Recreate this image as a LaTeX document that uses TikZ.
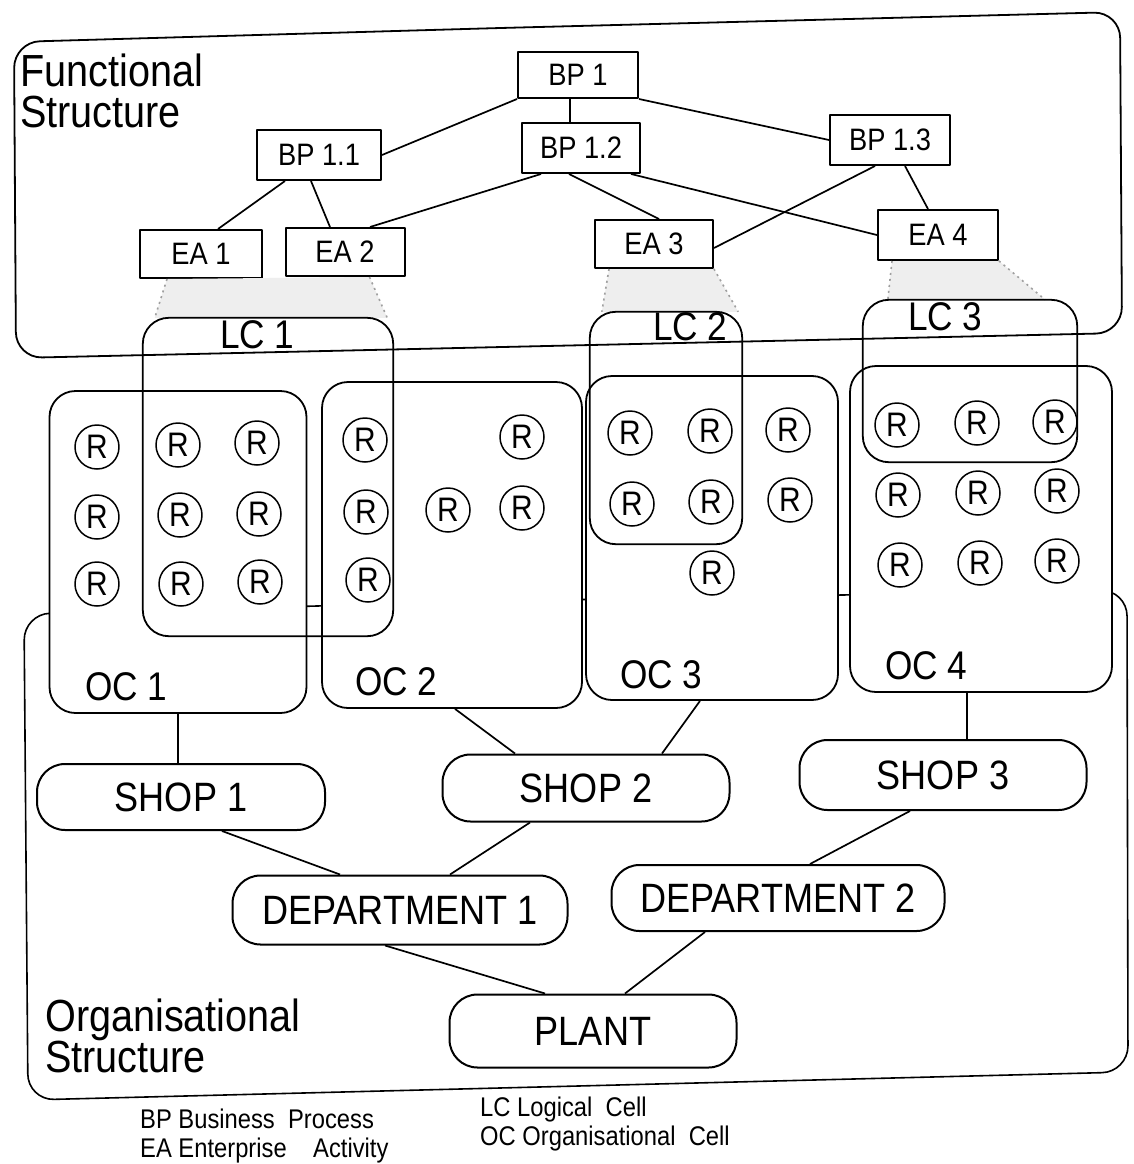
\documentclass[tikz,border=0pt]{standalone}
\usepackage{fontspec}
\setmainfont{Liberation Sans}[FakeStretch=0.88]
\usetikzlibrary{calc}
\begin{document}
\begin{tikzpicture}[x=1pt,y=-1pt,line join=round,
  bpbox/.style={draw,line width=2pt,inner sep=0pt,font=\fontsize{31}{31}\selectfont},
  cell/.style={draw,line width=1.8pt,rounded corners=26pt,inner sep=0pt},
  res/.style={circle,draw,line width=1.5pt,minimum size=44pt,inner sep=0pt,font=\fontsize{34}{34}\selectfont},
  unit/.style={draw,line width=2pt,rounded corners=28pt,inner sep=0pt,font=\fontsize{41}{41}\selectfont},
  link/.style={line width=1.7pt},
  bigbox/.style={draw,line width=1.8pt,rounded corners=26pt},
  funnelfill/.style={fill=gray!13},
  funnel/.style={draw=gray!75,line width=1.6pt,dash pattern=on 2pt off 4pt},
  title/.style={align=left,inner sep=0pt,anchor=north west,font=\fontsize{45}{41}\selectfont},
  cellname/.style={inner sep=0pt,anchor=base west,font=\fontsize{40}{40}\selectfont},
  legend/.style={inner sep=0pt,anchor=base west,font=\fontsize{27}{27}\selectfont}]
\useasboundingbox[fill=white] (0,0) rectangle (1133,1164);

% ---------- functional structure nodes
\node[bpbox,minimum width=120pt,minimum height=46pt] (bp1)  at (578,75)  {BP 1};
\node[bpbox,minimum width=124pt,minimum height=50pt] (bp11) at (319,155) {BP 1.1};
\node[bpbox,minimum width=118pt,minimum height=50pt] (bp12) at (581,148) {BP 1.2};
\node[bpbox,minimum width=120pt,minimum height=50pt] (bp13) at (890,140) {BP 1.3};
\node[bpbox,minimum width=122pt,minimum height=48pt] (ea1)  at (201,254) {EA 1};
\node[bpbox,minimum width=119pt,minimum height=48pt] (ea2)  at (345,252) {EA 2};
\node[bpbox,minimum width=118pt,minimum height=48pt] (ea3)  at (654,244) {EA 3};
\node[bpbox,minimum width=120pt,minimum height=50pt] (ea4)  at (938,235) {EA 4};

% ---------- cells (geometry)
\path (268,477) node[minimum width=250pt,minimum height=318pt,inner sep=0pt] (lc1) {};
\path (666,428) node[minimum width=152pt,minimum height=232pt,inner sep=0pt] (lc2) {};
\path (970,381) node[minimum width=214pt,minimum height=162pt,inner sep=0pt] (lc3) {};

% ---------- EA to LC shading
\fill[funnelfill] ([xshift=28pt]ea1.south west) -- ([xshift=-36pt]ea2.south east) -- ([xshift=-6pt]lc1.north east) -- ([xshift=12pt]lc1.north west) -- cycle;
\fill[funnelfill] ([xshift=15pt]ea3.south west) -- (ea3.south east) -- ([xshift=-4pt]lc2.north east) -- ([xshift=12pt]lc2.north west) -- cycle;
\fill[funnelfill] ([xshift=15pt]ea4.south west) -- (ea4.south east) -- ([xshift=-32pt]lc3.north east) -- ([xshift=25pt]lc3.north west) -- cycle;
\draw[funnel] ([xshift=28pt]ea1.south west) -- ([xshift=12pt]lc1.north west);
\draw[funnel] ([xshift=-36pt]ea2.south east) -- ([xshift=-6pt]lc1.north east);
\draw[funnel] ([xshift=15pt]ea3.south west) -- ([xshift=12pt]lc2.north west);
\draw[funnel] (ea3.south east) -- ([xshift=-4pt]lc2.north east);
\draw[funnel] ([xshift=15pt]ea4.south west) -- ([xshift=25pt]lc3.north west);
\draw[funnel] (ea4.south east) -- ([xshift=-32pt]lc3.north east);

% ---------- big frames
\draw[bigbox] (500,28) -- (1120,12) -- (1122,333) -- (16,358) -- (14,42) -- cycle;
\draw[bigbox,line width=1.6pt] (500,601) -- (1127,590) -- (1128,1072) -- (28,1100) -- (24,614) -- cycle;

% ---------- functional connectors
\draw[link] (bp1.south west) -- (bp11.east);
\draw[link] (bp1.south east) -- (bp13.west);
\draw[link] ([xshift=-8pt]bp1.south) -- ([xshift=-8pt]bp1.south |- bp12.north);
\draw[link] ([xshift=-34pt]bp11.south) -- ([xshift=17pt]ea1.north);
\draw[link] ([xshift=-8pt]bp11.south) -- ([xshift=-15pt]ea2.north);
\draw[link] ([xshift=-40pt]bp12.south) -- ([xshift=25pt]ea2.north);
\draw[link] ([xshift=-12pt]bp12.south) -- ([xshift=5pt]ea3.north);
\draw[link] ([xshift=50pt]bp12.south) -- (ea4.west);
\draw[link] ([xshift=-15pt]bp13.south) -- ([yshift=-4pt]ea3.east);
\draw[link] ([xshift=15pt]bp13.south) -- ([xshift=-10pt]ea4.north);

% ---------- organisational cells
\node[cell,fill=white,minimum width=257pt,minimum height=322pt] (oc1) at (178,552) {};
\node[cell,fill=white,minimum width=260pt,minimum height=326pt] (oc2) at (452,545) {};
\node[cell,fill=white,minimum width=252pt,minimum height=324pt] (oc3) at (712,538) {};
\node[cell,fill=white,minimum width=262pt,minimum height=326pt] (oc4) at (981,529) {};
\node[cellname] (oc1l) at (85,700) {OC 1};
\node[cellname] (oc2l) at (355,695) {OC 2};
\node[cellname] (oc3l) at (620,688) {OC 3};
\node[cellname] (oc4l) at (885,679) {OC 4};

% ---------- logical cells
\draw[cell] (lc1.south west) rectangle (lc1.north east);
\draw[cell] (lc2.south west) rectangle (lc2.north east);
\draw[cell] (lc3.south west) rectangle (lc3.north east);
\node[cellname] (lc1l) at (220,348) {LC 1};
\node[cellname] (lc2l) at (653,340) {LC 2};
\node[cellname] (lc3l) at (908,330) {LC 3};

% ---------- resources
\foreach \px/\py [count=\i] in {97/447,97/517,97/584,178/445,180/515,181/584,257/443,259/514,260/582,
  365/440,366/512,368/580,448/510,522/437,522/508,
  630/433,710/431,788/430,632/504,711/502,790/500,712/573,
  897/425,977/423,1055/422,898/495,978/493,1057/491,900/565,980/563,1057/561}
  \node[res] (r\i) at (\px,\py) {R};

% ---------- organisational units
\node[unit,minimum width=288pt,minimum height=66pt] (shop1) at (181,797) {SHOP 1};
\node[unit,minimum width=287pt,minimum height=67pt] (shop2) at (586,788) {SHOP 2};
\node[unit,minimum width=287pt,minimum height=70pt] (shop3) at (943,775) {SHOP 3};
\node[unit,minimum width=335pt,minimum height=69pt] (dept1) at (400,910) {DEPARTMENT 1};
\node[unit,minimum width=333pt,minimum height=66pt] (dept2) at (778,898) {DEPARTMENT 2};
\node[unit,minimum width=287pt,minimum height=73pt] (plant) at (593,1031) {PLANT};

\draw[link] (oc1.south) -- (oc1.south |- shop1.north);
\draw[link] ([xshift=3pt]oc2.south) -- ([xshift=-71pt]shop2.north);
\draw[link] ([xshift=-12pt]oc3.south) -- ([xshift=76pt]shop2.north);
\draw[link] ([xshift=-14pt]oc4.south) -- ([xshift=24pt]shop3.north);
\draw[link] ([xshift=41pt]shop1.south) -- ([xshift=-60pt]dept1.north);
\draw[link] ([xshift=-56pt]shop2.south) -- ([xshift=50pt]dept1.north);
\draw[link] ([xshift=-33pt]shop3.south) -- ([xshift=32pt]dept2.north);
\draw[link] ([xshift=-15pt]dept1.south) -- ([xshift=-48pt]plant.north);
\draw[link] ([xshift=-73pt]dept2.south) -- ([xshift=32pt]plant.north);

% ---------- titles
\node[title] (ftitle) at (20,54) {Functional\\Structure};
\node[title] (otitle) at (45,999) {Organisational\\Structure};

% ---------- legend
\node[legend] (lg1) at (140,1128) {BP Business\ \ Process};
\node[legend] (lg2) at (140,1157) {EA Enterprise\ \ \ \ Activity};
\node[legend] (lg3) at (480,1116) {LC Logical\ \ Cell};
\node[legend] (lg4) at (480,1145) {OC Organisational\ \ Cell};
\end{tikzpicture}
\end{document}
